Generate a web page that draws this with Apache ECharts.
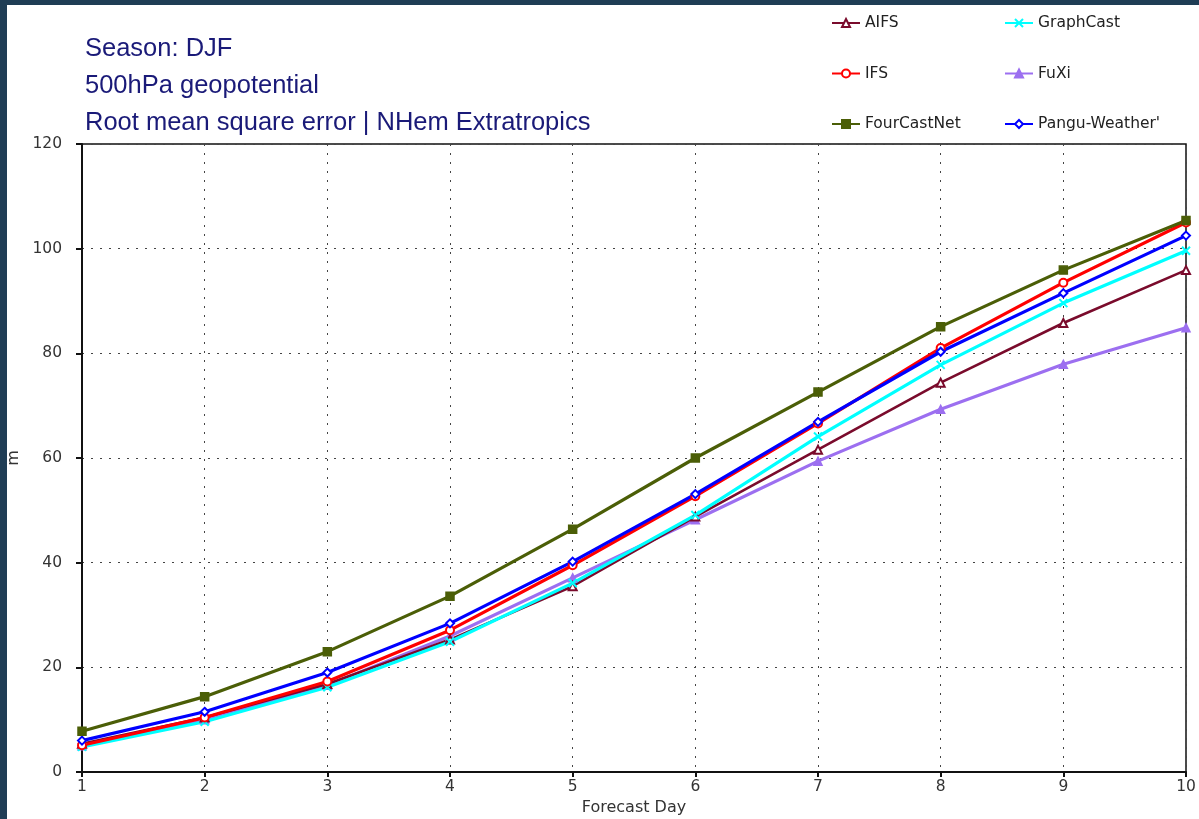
<!DOCTYPE html>
<html>
<head>
<meta charset="utf-8">
<script src="https://cdn.jsdelivr.net/npm/echarts@6/dist/echarts.min.js"></script>
<style>
html,body{margin:0;padding:0;background:#fff;}
#c{width:1199px;height:819px;}
</style>
</head>
<body>
<div id="c"></div>
<script>
const days = [1,2,3,4,5,6,7,8,9,10];
const yTicks = [0,20,40,60,80,100,120];
const titleLines = ["Season: DJF", "500hPa geopotential", "Root mean square error | NHem Extratropics"];
const AIFS        = [5.4, 10.4, 16.8, 25.3, 35.5, 48.8, 61.6, 74.4, 85.8, 95.9];
const GraphCast   = [4.8,  9.6, 16.2, 24.9, 36.1, 49.1, 64.1, 77.8, 89.6, 99.6];
const IFS         = [5.1, 10.4, 17.3, 27.1, 39.5, 52.7, 66.6, 81.0, 93.5, 105.0];
const FuXi        = [5.0, 10.0, 16.6, 26.0, 37.1, 48.2, 59.4, 69.3, 77.9, 84.9];
const FourCastNet = [7.8, 14.4, 23.0, 33.6, 46.4, 60.0, 72.6, 85.1, 95.9, 105.4];
const Pangu       = [6.0, 11.5, 19.0, 28.4, 40.2, 53.1, 66.9, 80.3, 91.5, 102.5];

const pair = arr => days.map((d,i)=>[d, arr[i]]);
const chart = echarts.init(document.getElementById('c'), null, {renderer:'canvas'});
const axisFont = {fontFamily:'DejaVu Sans', fontSize:15.5, color:'#333'};
const xPath = 'path://M0,0L10,10M10,0L0,10';

function series(name, data, color, symbol, opts){
  return Object.assign({
    name, type:'line', data: pair(data), symbol, symbolSize:8,
    lineStyle:{color, width:3.2}, itemStyle:{color, borderColor:color, borderWidth:1.5},
    emphasis:{disabled:true}
  }, opts||{});
}

chart.setOption({
  animation:false,
  backgroundColor:'#fff',
  title:{
    text: titleLines.join('\n'), left:80, top:25,
    textStyle:{fontFamily:'Liberation Sans', fontSize:25.5, fontWeight:'normal', color:'#1a1a78', lineHeight:37}
  },
  legend:[
    {data:['AIFS','IFS','FourCastNet'], orient:'vertical', left:826, top:10, itemGap:34.5, itemWidth:28, itemHeight:10,
     textStyle:{fontFamily:'DejaVu Sans', fontSize:15.5, color:'#222'}},
    {data:['GraphCast','FuXi',"Pangu-Weather'"], orient:'vertical', left:999, top:10, itemGap:34.5, itemWidth:28, itemHeight:10,
     textStyle:{fontFamily:'DejaVu Sans', fontSize:15.5, color:'#222'}}
  ],
  grid:{left:82, right:13, top:144, bottom:47, outerBoundsMode:'none', containLabel:false,
        show:true, borderColor:'#111', borderWidth:1.5},
  xAxis:{
    type:'value', min:1, max:10, interval:1, name:'Forecast Day', nameLocation:'middle', nameGap:28,
    nameTextStyle:Object.assign({}, axisFont, {fontSize:16}),
    axisLine:{lineStyle:{color:'#111', width:2}},
    axisTick:{show:true, length:5, lineStyle:{color:'#111', width:2}},
    axisLabel:Object.assign({margin:7}, axisFont),
    splitLine:{show:true, lineStyle:{color:'#444', type:[2,7], width:1}}
  },
  yAxis:{
    type:'value', min:0, max:120, interval:20, name:'m', nameLocation:'middle', nameGap:58,
    nameTextStyle:Object.assign({}, axisFont, {fontSize:16}),
    axisLine:{lineStyle:{color:'#111', width:2}},
    axisTick:{show:true, length:6, lineStyle:{color:'#111', width:2}},
    axisLabel:Object.assign({margin:20, formatter:v=>yTicks.includes(v)?String(v):''}, axisFont),
    splitLine:{show:true, lineStyle:{color:'#444', type:[2,7], width:1}}
  },
  series:[
    series('FuXi', FuXi, '#9c6ff0', 'triangle'),
    series('AIFS', AIFS, '#7a0b2c', 'emptyTriangle', {lineStyle:{color:'#7a0b2c', width:2.6}}),
    series('GraphCast', GraphCast, '#00ffff', xPath, {itemStyle:{color:'#00ffff', borderColor:'#00ffff', borderWidth:2}}),
    series('IFS', IFS, '#ff0000', 'emptyCircle'),
    series("Pangu-Weather'", Pangu, '#0000ff', 'emptyDiamond'),
    series('FourCastNet', FourCastNet, '#4b5e07', 'rect')
  ],
  graphic:[
    {type:'rect', left:0, top:0, shape:{width:7, height:819}, style:{fill:'#1f3d55'}, z:100},
    {type:'rect', left:0, top:0, shape:{width:1199, height:5}, style:{fill:'#1f3d55'}, z:100}
  ]
});
</script>
</body>
</html>
